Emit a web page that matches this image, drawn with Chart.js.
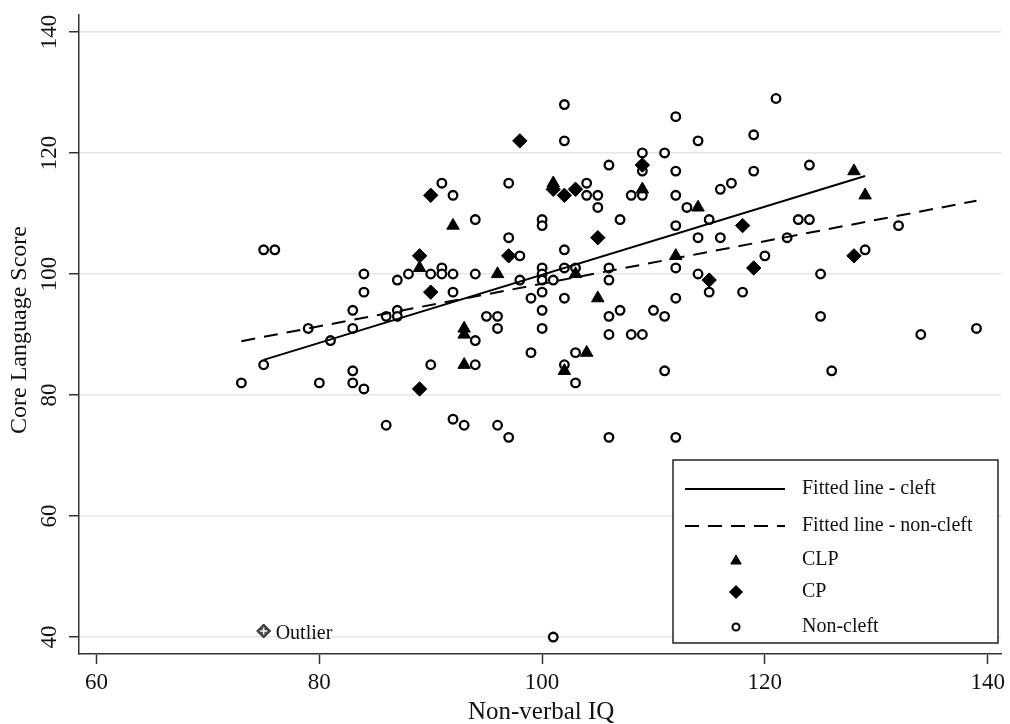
<!DOCTYPE html>
<html>
<head>
<meta charset="utf-8">
<title>Core Language Score by Non-verbal IQ</title>
<script src="https://cdn.jsdelivr.net/npm/chart.js@4.4.1/dist/chart.umd.min.js"></script>
<style>
  html, body { margin: 0; padding: 0; background: #fff; }
  #wrap { width: 1010px; height: 724px; }
</style>
</head>
<body>
<div id="wrap"><canvas id="iqChart" width="1010" height="724"></canvas></div>
<script>
// axis ticks
const xTicks = [60, 80, 100, 120, 140];
const yTicks = [40, 60, 80, 100, 120, 140];

// CLP (cleft lip and palate)
const clpIQ    = [92, 89, 93, 93, 93, 101, 109, 114, 112, 96, 103, 128, 129, 105, 104, 102];
const clpScore = [108, 101, 91, 90, 85, 115, 114, 111, 103, 100, 100, 117, 113, 96, 87, 84];

// CP (cleft palate)
const cpIQ    = [90, 89, 90, 89, 98, 109, 101, 102, 103, 105, 97, 115, 118, 119, 128];
const cpScore = [113, 103, 97, 81, 122, 118, 114, 113, 114, 106, 103, 99, 108, 101, 103];

// non-cleft controls
const ncIQ = [
  91, 92, 94, 75, 76, 84, 87, 88, 90, 91, 91, 92, 94, 84, 92,
  83, 79, 83, 87, 87, 86, 81, 75, 73, 80, 83, 83, 84, 90, 94, 94, 86, 92, 93,
  102, 102, 112, 114, 109, 111, 106, 109, 112, 97, 104, 104, 105, 105, 108, 109, 112, 113, 116, 117,
  100, 100, 107, 97, 112, 115, 114, 116, 98, 102, 98, 100, 100, 100, 101, 102, 103, 106, 106, 112, 114, 115, 100,
  121, 119, 119, 124, 123, 124, 132, 122, 120, 129, 125, 118, 125, 134, 139, 126,
  99, 102, 112, 95, 96, 96, 100, 100, 106, 107, 106, 108, 109, 110, 111, 99, 103, 102, 103, 111,
  96, 97, 106, 112, 101
];
const ncScore = [
  115, 113, 109, 104, 104, 100, 99, 100, 100, 101, 100, 100, 100, 97, 97,
  94, 91, 91, 94, 93, 93, 89, 85, 82, 82, 84, 82, 81, 85, 89, 85, 75, 76, 75,
  128, 122, 126, 122, 120, 120, 118, 117, 117, 115, 115, 113, 113, 111, 113, 113, 113, 111, 114, 115,
  109, 108, 109, 106, 108, 109, 106, 106, 103, 104, 99, 101, 100, 99, 99, 101, 101, 101, 99, 101, 100, 97, 97,
  129, 123, 117, 118, 109, 109, 108, 106, 103, 104, 100, 97, 93, 90, 91, 84,
  96, 96, 96, 93, 93, 91, 94, 91, 93, 94, 90, 90, 90, 94, 93, 87, 87, 85, 82, 84,
  75, 73, 73, 73, 40
];

// outlier
const outlierIQ = [75];
const outlierScore = [41];

// fitted lines (end points)
const cleftFitIQ = [75, 129];
const cleftFitScore = [85.8, 116.2];
const nonCleftFitIQ = [73, 139];
const nonCleftFitScore = [88.9, 112.1];

const SERIF = '"Liberation Serif", "DejaVu Serif", serif';

function toPoints(xs, ys) {
  return xs.map((x, i) => ({ x: x, y: ys[i] }));
}

const labelPlugin = {
  id: 'labels',
  afterDraw(chart) {
    const ctx = chart.ctx;
    const xs = chart.scales.x;
    const ys = chart.scales.y;
    ctx.save();
    ctx.fillStyle = '#111';

    // rotated y tick labels
    ctx.font = '23px ' + SERIF;
    ctx.textAlign = 'center';
    ctx.textBaseline = 'middle';
    yTicks.forEach(v => {
      ctx.save();
      ctx.translate(50, ys.getPixelForValue(v));
      ctx.rotate(-Math.PI / 2);
      ctx.fillText(String(v), 0, 0);
      ctx.restore();
    });

    // axis titles
    ctx.font = '24px ' + SERIF;
    ctx.save();
    ctx.translate(20, 330);
    ctx.rotate(-Math.PI / 2);
    ctx.fillText('Core Language Score', 0, 0);
    ctx.restore();
    ctx.font = '25px ' + SERIF;
    ctx.fillText('Non-verbal IQ', (xs.left + xs.right) / 2 + 1, 712);

    // outlier label
    ctx.font = '20px ' + SERIF;
    ctx.textAlign = 'left';
    ctx.fillText('Outlier', xs.getPixelForValue(outlierIQ[0]) + 12, ys.getPixelForValue(outlierScore[0]) + 3);

    // legend box
    const bx = 673, by = 460, bw = 325, bh = 183;
    ctx.fillStyle = '#fff';
    ctx.fillRect(bx, by, bw, bh);
    ctx.strokeStyle = '#222';
    ctx.lineWidth = 1.5;
    ctx.strokeRect(bx, by, bw, bh);

    const rows = [489, 526, 560, 592, 627];
    const texts = ['Fitted line - cleft', 'Fitted line - non-cleft', 'CLP', 'CP', 'Non-cleft'];
    ctx.strokeStyle = '#000';
    ctx.lineWidth = 2;
    ctx.beginPath();
    ctx.moveTo(685, rows[0]); ctx.lineTo(785, rows[0]);
    ctx.stroke();
    ctx.setLineDash([14, 9]);
    ctx.beginPath();
    ctx.moveTo(685, rows[1]); ctx.lineTo(785, rows[1]);
    ctx.stroke();
    ctx.setLineDash([]);

    ctx.fillStyle = '#000';
    ctx.lineWidth = 1;
    Chart.helpers.drawPoint(ctx, { pointStyle: 'triangle', radius: 6, rotation: 0, borderWidth: 1 }, 736, rows[2] + 1);
    Chart.helpers.drawPoint(ctx, { pointStyle: 'rectRot', radius: 6.5, rotation: 0, borderWidth: 1 }, 736, rows[3]);
    ctx.fillStyle = '#fff';
    ctx.lineWidth = 2;
    Chart.helpers.drawPoint(ctx, { pointStyle: 'circle', radius: 3.5, rotation: 0, borderWidth: 2 }, 736, rows[4]);

    ctx.fillStyle = '#111';
    ctx.font = '20px ' + SERIF;
    ctx.textAlign = 'left';
    ctx.textBaseline = 'middle';
    texts.forEach((t, i) => ctx.fillText(t, 802, rows[i]));
    ctx.restore();
  }
};

new Chart(document.getElementById('iqChart'), {
  type: 'scatter',
  data: {
    datasets: [
      {
        type: 'line',
        label: 'Fitted line - cleft',
        data: toPoints(cleftFitIQ, cleftFitScore),
        borderColor: '#000',
        borderWidth: 2,
        pointRadius: 0,
        fill: false
      },
      {
        type: 'line',
        label: 'Fitted line - non-cleft',
        data: toPoints(nonCleftFitIQ, nonCleftFitScore),
        borderColor: '#000',
        borderWidth: 2,
        borderDash: [14, 9],
        pointRadius: 0,
        fill: false
      },
      {
        label: 'CLP',
        data: toPoints(clpIQ, clpScore),
        pointStyle: 'triangle',
        pointRadius: 7.2,
        backgroundColor: '#000',
        borderColor: '#000',
        borderWidth: 1
      },
      {
        label: 'CP',
        data: toPoints(cpIQ, cpScore),
        pointStyle: 'rectRot',
        pointRadius: 7.2,
        backgroundColor: '#000',
        borderColor: '#000',
        borderWidth: 1
      },
      {
        label: 'Non-cleft',
        data: toPoints(ncIQ, ncScore),
        pointStyle: 'circle',
        pointRadius: 4.3,
        backgroundColor: '#fff',
        borderColor: '#000',
        borderWidth: 2.3
      },
      {
        label: 'Outlier cross',
        data: toPoints(outlierIQ, outlierScore),
        pointStyle: 'cross',
        pointRadius: 3.5,
        borderColor: '#fff',
        borderWidth: 1.5
      },
      {
        label: 'Outlier',
        data: toPoints(outlierIQ, outlierScore),
        pointStyle: 'rectRot',
        pointRadius: 7,
        backgroundColor: '#4a4a4a',
        borderColor: '#222',
        borderWidth: 1
      }
    ]
  },
  options: {
    responsive: false,
    animation: false,
    devicePixelRatio: 1,
    layout: { padding: { top: 15, right: 6, left: 0, bottom: 0 } },
    plugins: {
      legend: { display: false },
      tooltip: { enabled: false }
    },
    scales: {
      x: {
        type: 'linear',
        min: 58.42,
        max: 141.23,
        afterBuildTicks: s => { s.ticks = xTicks.map(v => ({ value: v })); },
        afterFit: s => { s.height = 70; },
        grid: { drawOnChartArea: false, drawTicks: true, tickLength: 10, tickColor: '#333', tickWidth: 1.5 },
        border: { color: '#333', width: 1.5 },
        ticks: { font: { family: SERIF, size: 23 }, color: '#111', padding: 5, maxRotation: 0 }
      },
      y: {
        type: 'linear',
        min: 37.2,
        max: 142.8,
        afterBuildTicks: s => { s.ticks = yTicks.map(v => ({ value: v })); },
        afterFit: s => { s.width = 79; },
        grid: { color: '#e6e6e6', lineWidth: 1.5, drawTicks: true, tickLength: 10, tickColor: '#333', tickWidth: 1.5 },
        border: { color: '#333', width: 1.5 },
        ticks: { display: false }
      }
    }
  },
  plugins: [labelPlugin]
});
</script>
</body>
</html>
